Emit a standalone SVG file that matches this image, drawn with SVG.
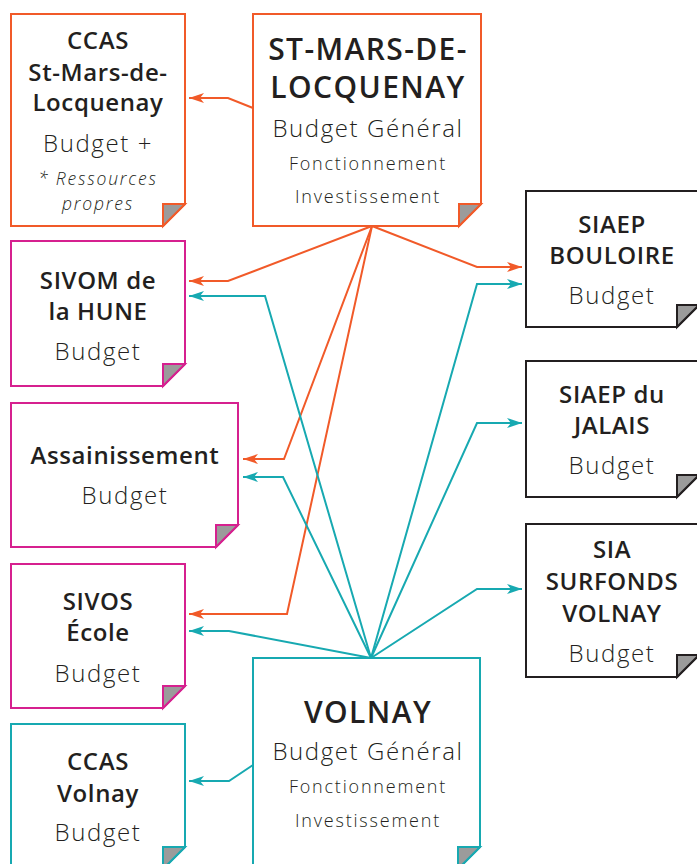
<svg xmlns="http://www.w3.org/2000/svg" width="697" height="864" viewBox="0 0 697 864">
<style>
text{font-family:"Open Sans","Noto Sans","Liberation Sans",sans-serif;fill:#231F20;text-anchor:middle}
.t{font-weight:600;font-size:24px;letter-spacing:0.6px}
.big{font-weight:600;font-size:30px;letter-spacing:1.4px}
.b{font-weight:300;font-size:24px;letter-spacing:1.6px}
.s{font-weight:300;font-size:18px;letter-spacing:1.8px}
.i{font-weight:300;font-style:italic;font-size:17.5px;letter-spacing:1.8px}
.box{fill:#fff;stroke-width:2}
.fold{fill:#9B9B9B;stroke-width:2;stroke-linejoin:miter}
.o{stroke:#F15A29}.m{stroke:#D6208F}.c{stroke:#17A9B1}.k{stroke:#231F20}
.ln{fill:none;stroke-width:2}
.lo{stroke:#F15A29;marker-end:url(#ao)}
.lc{stroke:#17A9B1;marker-end:url(#ac)}
</style>
<defs>
<marker id="ao" markerUnits="userSpaceOnUse" markerWidth="16" markerHeight="12" viewBox="0 0 16 12" refX="15" refY="6" orient="auto"><path d="M0,1 L15,6 L0,11 L4,6 Z" fill="#F15A29"/></marker>
<marker id="ac" markerUnits="userSpaceOnUse" markerWidth="16" markerHeight="12" viewBox="0 0 16 12" refX="15" refY="6" orient="auto"><path d="M0,1 L15,6 L0,11 L4,6 Z" fill="#17A9B1"/></marker>
</defs>
<g id="connectors">
<polyline class="ln lo" points="253,108 228,98 189,98"/>
<polyline class="ln lo" points="372,226 228,281 189,281"/>
<polyline class="ln lo" points="372,226 284,459 243,459"/>
<polyline class="ln lo" points="372,226 287,614 189,614"/>
<polyline class="ln lo" points="372,226 477,267 522,267"/>
<polyline class="ln lc" points="371,658 265,296 189,296"/>
<polyline class="ln lc" points="371,658 283,477 243,477"/>
<polyline class="ln lc" points="371,658 229,631 189,631"/>
<polyline class="ln lc" points="371,658 477,284 522,284"/>
<polyline class="ln lc" points="371,658 477,423 522,423"/>
<polyline class="ln lc" points="371,658 477,589 522,589"/>
<polyline class="ln lc" points="253,765 229,781 189,781"/>
</g>
<g id="ccas-stmars">
<path class="box o" d="M11,14 H185 V204 L163,226 H11 Z"/>
<path class="fold o" d="M163,204 H185 L163,226 Z"/>
<text class="t" x="98" y="49">CCAS</text>
<text class="t" x="98" y="81">St-Mars-de-</text>
<text class="t" x="98" y="111">Locquenay</text>
<text class="b" x="98" y="152">Budget +</text>
<text class="i" x="98" y="185">* Ressources</text>
<text class="i" x="98" y="210">propres</text>
</g>
<g id="stmars">
<path class="box o" d="M253,14 H481 V204 L459,226 H253 Z"/>
<path class="fold o" d="M459,204 H481 L459,226 Z"/>
<text class="big" x="368" y="60">ST-MARS-DE-</text>
<text class="big" x="368" y="98">LOCQUENAY</text>
<text class="b" x="368" y="137">Budget Général</text>
<text class="s" x="368" y="170">Fonctionnement</text>
<text class="s" x="368" y="203">Investissement</text>
</g>
<g id="sivom">
<path class="box m" d="M11,241 H185 V364 L163,386 H11 Z"/>
<path class="fold m" d="M163,364 H185 L163,386 Z"/>
<text class="t" x="98" y="289">SIVOM de</text>
<text class="t" x="98" y="320">la HUNE</text>
<text class="b" x="98" y="360">Budget</text>
</g>
<g id="assainissement">
<path class="box m" d="M11,403 H238 V525 L216,547 H11 Z"/>
<path class="fold m" d="M216,525 H238 L216,547 Z"/>
<text class="t" x="125" y="464">Assainissement</text>
<text class="b" x="125" y="504">Budget</text>
</g>
<g id="sivos">
<path class="box m" d="M11,564 H185 V686 L163,708 H11 Z"/>
<path class="fold m" d="M163,686 H185 L163,708 Z"/>
<text class="t" x="98" y="610">SIVOS</text>
<text class="t" x="98" y="641">École</text>
<text class="b" x="98" y="682">Budget</text>
</g>
<g id="ccas-volnay">
<path class="box c" d="M11,724 H185 V847 L163,869 H11 Z"/>
<path class="fold c" d="M163,847 H185 L163,869 Z"/>
<text class="t" x="98" y="770">CCAS</text>
<text class="t" x="98" y="802">Volnay</text>
<text class="b" x="98" y="841">Budget</text>
</g>
<g id="volnay">
<path class="box c" d="M253,658 H480 V847 L458,869 H253 Z"/>
<path class="fold c" d="M458,847 H480 L458,869 Z"/>
<text class="big" x="368" y="723">VOLNAY</text>
<text class="b" x="368" y="760">Budget Général</text>
<text class="s" x="368" y="793">Fonctionnement</text>
<text class="s" x="368" y="827">Investissement</text>
</g>
<g id="siaep-bouloire">
<path class="box k" d="M526,191 H699 V305 L677,327 H526 Z"/>
<path class="fold k" d="M677,305 H699 L677,327 Z"/>
<text class="t" x="612" y="233">SIAEP</text>
<text class="t" x="612" y="264">BOULOIRE</text>
<text class="b" x="612" y="304">Budget</text>
</g>
<g id="siaep-jalais">
<path class="box k" d="M526,361 H699 V475 L677,497 H526 Z"/>
<path class="fold k" d="M677,475 H699 L677,497 Z"/>
<text class="t" x="612" y="403">SIAEP du</text>
<text class="t" x="612" y="434">JALAIS</text>
<text class="b" x="612" y="474">Budget</text>
</g>
<g id="sia-surfonds">
<path class="box k" d="M526,524 H699 V655 L677,677 H526 Z"/>
<path class="fold k" d="M677,655 H699 L677,677 Z"/>
<text class="t" x="612" y="558">SIA</text>
<text class="t" x="612" y="590">SURFONDS</text>
<text class="t" x="612" y="622">VOLNAY</text>
<text class="b" x="612" y="662">Budget</text>
</g>
</svg>
